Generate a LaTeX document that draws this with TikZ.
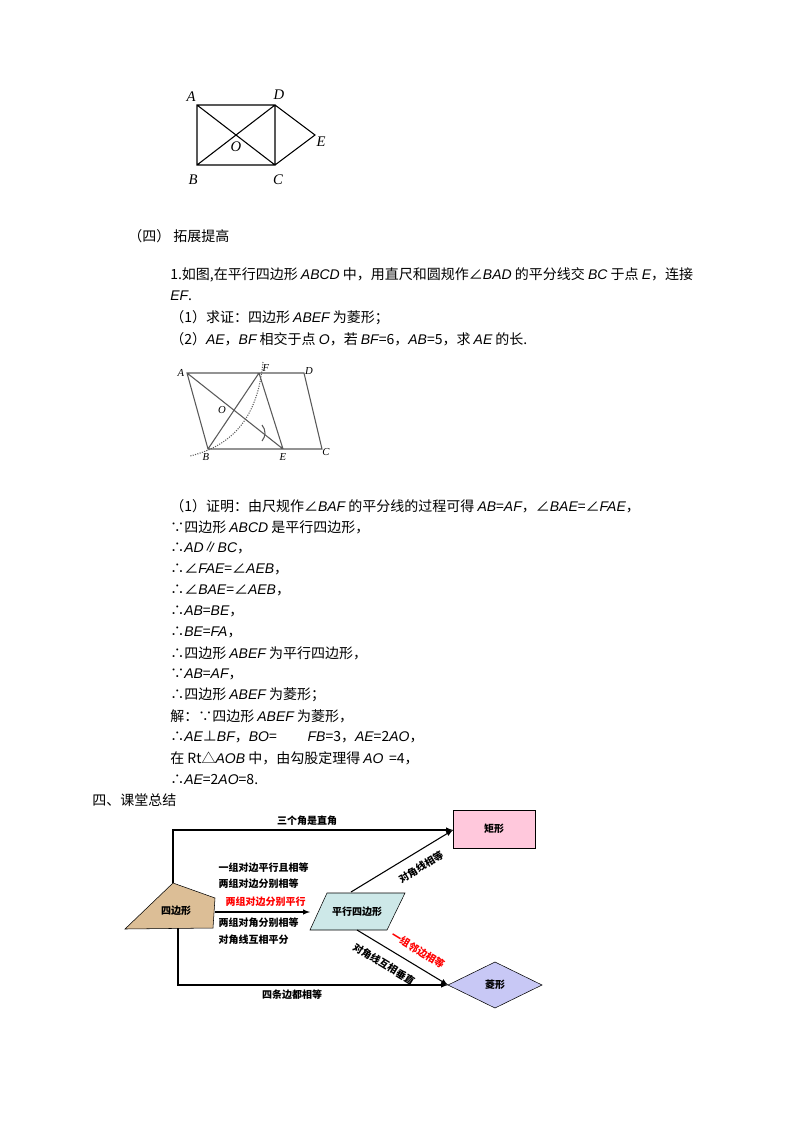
\documentclass[tikz,border=0pt]{standalone}
\usepackage{fontspec}
\setmainfont{Noto Sans CJK SC}
\newfontfamily\latf{Liberation Sans}
\newfontfamily\serf{Liberation Serif}
\newcommand\vi[1]{{\latf\itshape #1}}
\begin{document}
\begin{tikzpicture}[x=0.75pt,y=-0.75pt,
  txt/.style={anchor=west,inner sep=0pt,font=\fontsize{10.5}{12}\selectfont},
  gl/.style={font=\serf\itshape\fontsize{11}{12}\selectfont,inner sep=1pt},
  fl/.style={font=\fontsize{7.5}{9}\selectfont\bfseries,inner sep=1pt},
  ar/.style={-latex,thick}]
\useasboundingbox (0,0) rectangle (800,1132);
% figure 1
\coordinate (A1) at (197,105); \coordinate (D1) at (275,105);
\coordinate (B1) at (197,165); \coordinate (C1) at (275,165);
\coordinate (E1) at (315,135);
\draw[thick] (A1)--(D1)--(C1)--(B1)--cycle (A1)--(C1) (B1)--(D1) (D1)--(E1)--(C1);
\node[gl] at (191,97) {A}; \node[gl] at (279,95) {D}; \node[gl] at (193,180) {B};
\node[gl] at (278,180) {C}; \node[gl] at (321,142) {E}; \node[gl] at (236,147) {O};
\node[txt] at (128,236) {（四） 拓展提高};
\node[txt] at (170,275) {1.如图,在平行四边形 \vi{ABCD} 中，用直尺和圆规作∠\vi{BAD} 的平分线交 \vi{BC} 于点 \vi{E}，连接};
\node[txt] at (170,296) {\vi{EF}.};
\node[txt] at (170,318) {（1）求证：四边形 \vi{ABEF} 为菱形；};
\node[txt] at (170,339) {（2）\vi{AE}，\vi{BF} 相交于点 \vi{O}，若 \vi{BF}=6，\vi{AB}=5，求 \vi{AE} 的长.};
% figure 2
\coordinate (A) at (187,373); \coordinate (F) at (259,373); \coordinate (D) at (304,373);
\coordinate (B) at (208,449); \coordinate (E) at (283,449); \coordinate (C) at (322,449);
\draw[gray!70!black,thick] (A)--(D)--(C)--(B)--cycle (F)--(E) (B)--(F) (A)--(E);
\draw[densely dotted,thick,gray!70!black] (263,362) .. controls (258,415) and (235,445) .. (190,456);
\draw[thick,gray!70!black] (262,425) .. controls (266,430) and (266,436) .. (262,441);
\tikzset{sg/.style={gl,font=\serf\itshape\fontsize{8}{9}\selectfont}}
\node[sg] at (181,373) {A};
\node[sg] at (266,368) {F};
\node[sg] at (309,371) {D};
\node[sg] at (206,457) {B};
\node[sg] at (283,457) {E};
\node[sg] at (326,452) {C};
\node[sg] at (222,410) {O};
% proof
\node[txt] at (170,506) {（1）证明：由尺规作∠\vi{BAF} 的平分线的过程可得 \vi{AB}=\vi{AF}，∠\vi{BAE}=∠\vi{FAE}，};
\node[txt] at (170,527) {∵四边形 \vi{ABCD} 是平行四边形，};
\node[txt] at (170,548) {∴\vi{AD}∥\vi{BC}，};
\node[txt] at (170,569) {∴∠\vi{FAE}=∠\vi{AEB}，};
\node[txt] at (170,590) {∴∠\vi{BAE}=∠\vi{AEB}，};
\node[txt] at (170,611) {∴\vi{AB}=\vi{BE}，};
\node[txt] at (170,632) {∴\vi{BE}=\vi{FA}，};
\node[txt] at (170,653) {∴四边形 \vi{ABEF} 为平行四边形，};
\node[txt] at (170,674) {∵\vi{AB}=\vi{AF}，};
\node[txt] at (170,695) {∴四边形 \vi{ABEF} 为菱形；};
\node[txt] at (170,716) {解：∵四边形 \vi{ABEF} 为菱形，};
\node[txt] at (170,737) {∴\vi{AE}⊥\vi{BF}，\vi{BO}=\hspace{2.2em}\vi{FB}=3，\vi{AE}=2\vi{AO}，};
\node[txt] at (170,758) {在 Rt△\vi{AOB} 中，由勾股定理得 \vi{AO}\ \,=4，};
\node[txt] at (170,779) {∴\vi{AE}=2\vi{AO}=8.};
\node[txt] at (92,800) {四、课堂总结};
% flowchart
\draw[fill={rgb,255:red,220;green,190;blue,150},thin] (125,929)--(173,883)--(215,898)--(213,928)--cycle;
\node[fl] (q) at (176,911) {四边形};
\draw[fill={rgb,255:red,205;green,232;blue,232},thin] (310,930)--(327,893)--(405,893)--(387,930)--cycle;
\node[fl] (p) at (357,912) {平行四边形};
\node[draw,thin,fill={rgb,255:red,255;green,200;blue,220},minimum width=61.5pt,minimum height=28.5pt,fl] (r) at (494,829) {矩形};
\draw[thin,fill={rgb,255:red,200;green,200;blue,245}] (448,985)--(495,962)--(542,985)--(495,1008)--cycle;
\node[fl] (l) at (495,985) {菱形};
\coordinate (qt) at (173,883); \coordinate (qb) at (178,928);
\coordinate (qr) at (215,912); \coordinate (pl) at (310,912);
\coordinate (pt) at (351,892); \coordinate (pb) at (357,930);
\coordinate (rl) at (453,830); \coordinate (lt) at (448,985);
\draw[ar] (qt)--(173,830)--(rl);
\draw[ar] (qb)--(178,985)--(lt);
\draw[ar] (qr)--(pl);
\draw[ar] (pt)--(rl);
\draw[ar] (pb)--(lt);
\node[fl] at (307,821) {三个角是直角};
\node[fl,anchor=west] at (217,868) {一组对边平行且相等};
\node[fl,anchor=west] at (217,884) {两组对边分别相等};
\node[fl,anchor=west,text=red] at (224,902) {两组对边分别平行};
\node[fl,anchor=west] at (217,923) {两组对角分别相等};
\node[fl,anchor=west] at (217,940) {对角线互相平分};
\node[fl] at (292,995) {四条边都相等};
\node[fl,rotate=31.5] at (421,867) {对角线相等};
\node[fl,rotate=-31.4,text=red] at (418,950) {一组邻边相等};
\node[fl,rotate=-31.4] at (384,964) {对角线互相垂直};
\end{tikzpicture}
\end{document}
